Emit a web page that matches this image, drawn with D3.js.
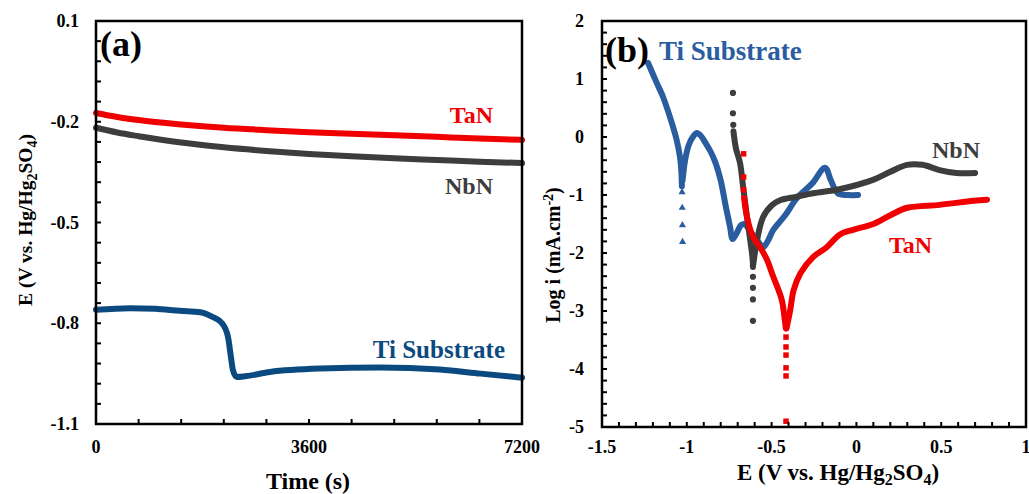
<!DOCTYPE html>
<html>
<head>
<meta charset="utf-8">
<script src="https://cdn.jsdelivr.net/npm/d3@7"></script>
<style>
  body { margin: 0; background: #fff; }
  svg { font-family: "Liberation Serif", "Times New Roman", serif; font-weight: bold; }
</style>
</head>
<body>
<svg id="chart" width="1029" height="494"></svg>
<script>
// ---- panel (a): open circuit potential vs time ----
var timeS = [0, 360, 720, 1440, 2160, 2880, 3600, 4320, 5040, 5760, 6480, 7200];
var tanOcp = [-0.174, -0.186, -0.195, -0.208, -0.218, -0.225, -0.231, -0.236, -0.240, -0.245, -0.250, -0.254];
var nbnOcp = [-0.218, -0.232, -0.243, -0.262, -0.276, -0.287, -0.296, -0.303, -0.309, -0.314, -0.319, -0.323];
var tiTime = [0, 575, 1000, 1420, 1760, 1960, 2130, 2230, 2280, 2315, 2380, 2520, 2940, 3790, 4800, 5810, 6500, 7200];
var tiOcp = [-0.760, -0.755, -0.757, -0.763, -0.767, -0.780, -0.800, -0.840, -0.900, -0.940, -0.960, -0.958, -0.945, -0.935, -0.932, -0.938, -0.950, -0.962];
var aXTicks = [0, 3600, 7200];
var aYTicks = [0.1, -0.2, -0.5, -0.8, -1.1];

// ---- panel (b): polarization curves [E, log i] ----
var tiCath = [[-1.229, 1.28], [-1.18, 0.95], [-1.14, 0.69], [-1.10, 0.35], [-1.06, -0.05], [-1.04, -0.35], [-1.032, -0.6], [-1.029, -0.85]];
var tiTail = [[-1.028, -0.95], [-1.027, -1.22], [-1.026, -1.52], [-1.025, -1.81]];
var tiAnod = [[-1.025, -0.75], [-1.01, -0.4], [-0.99, -0.15], [-0.96, 0.02], [-0.94, 0.07], [-0.92, 0.03], [-0.89, -0.1], [-0.86, -0.25], [-0.83, -0.45], [-0.80, -0.75], [-0.77, -1.2], [-0.745, -1.55], [-0.73, -1.76], [-0.71, -1.68], [-0.68, -1.52], [-0.66, -1.5], [-0.62, -1.65], [-0.58, -1.8], [-0.55, -1.9], [-0.52, -1.78], [-0.49, -1.6], [-0.42, -1.35], [-0.35, -1.05], [-0.26, -0.8], [-0.185, -0.53], [-0.15, -0.75], [-0.11, -0.97], [-0.05, -1.0], [0.01, -1.0]];

var nbnTop = [[-0.728, 0.76], [-0.728, 0.41], [-0.726, 0.21]];
var nbnCath = [[-0.725, 0.1], [-0.71, -0.2], [-0.686, -0.45], [-0.668, -0.86], [-0.645, -1.38], [-0.625, -1.8], [-0.612, -2.1], [-0.61, -2.24]];
var nbnTail = [[-0.61, -2.41], [-0.61, -2.6], [-0.61, -2.8], [-0.61, -3.17]];
var nbnAnod = [[-0.608, -2.2], [-0.586, -1.78], [-0.55, -1.38], [-0.5, -1.18], [-0.45, -1.09], [-0.35, -1.03], [-0.256, -0.97], [-0.1, -0.9], [0.098, -0.74], [0.2, -0.6], [0.298, -0.48], [0.39, -0.48], [0.49, -0.57], [0.59, -0.62], [0.70, -0.62]];

var tanTop = [[-0.665, -0.29], [-0.665, -0.69], [-0.665, -0.91]];
var tanCath = [[-0.662, -1.05], [-0.645, -1.38], [-0.61, -1.72], [-0.568, -1.9], [-0.53, -2.1], [-0.49, -2.41], [-0.44, -2.81], [-0.422, -3.16], [-0.416, -3.3]];
var tanTail = [[-0.415, -3.45], [-0.415, -3.62], [-0.415, -3.76], [-0.415, -3.98], [-0.415, -4.12], [-0.415, -4.9]];
var tanAnod = [[-0.412, -3.3], [-0.39, -2.98], [-0.37, -2.64], [-0.33, -2.35], [-0.256, -2.07], [-0.175, -1.9], [-0.097, -1.68], [-0.02, -1.6], [0.1, -1.5], [0.2, -1.35], [0.3, -1.22], [0.49, -1.17], [0.69, -1.1], [0.77, -1.08]];
var bXTicks = [-1.5, -1, -0.5, 0, 0.5, 1];
var bYTicks = [2, 1, 0, -1, -2, -3, -4, -5];

var RED = "#f00000", GREY = "#3d3d3d", NAVY = "#0b4a80", BLUE = "#2a5d9f";

var svg = d3.select("#chart");

function frame(g, x, y, xMinor, yMinor) {
  var x0 = x.range()[0], x1 = x.range()[1], y0 = y.range()[0], y1 = y.range()[1];
  g.selectAll("line.xt").data(xMinor).join("line")
    .attr("x1", function(d){ return x(d); }).attr("x2", function(d){ return x(d); })
    .attr("y1", y0).attr("y2", y0 - 5)
    .attr("stroke", "#000").attr("stroke-width", 2);
  g.selectAll("line.yt").data(yMinor).join("line")
    .attr("y1", function(d){ return y(d); }).attr("y2", function(d){ return y(d); })
    .attr("x1", x0).attr("x2", x0 + 5)
    .attr("stroke", "#000").attr("stroke-width", 2);
  g.append("rect")
    .attr("x", x0).attr("y", y1)
    .attr("width", x1 - x0).attr("height", y0 - y1)
    .attr("fill", "none").attr("stroke", "#000").attr("stroke-width", 2.5);
}

// axis title with sub/superscripts: parts = [[text, shift]]
function richText(t, parts, small) {
  parts.forEach(function(p){
    var s = t.append("tspan").attr("dy", p[1]).text(p[0]);
    if (p[2]) s.attr("font-size", small);
  });
}

// ================= panel (a) =================
var xa = d3.scaleLinear().domain([0, 7200]).range([96, 522]);
var ya = d3.scaleLinear().domain([-1.1, 0.1]).range([424, 21]);
var ga = svg.append("g");

var lineA = d3.line().curve(d3.curveMonotoneX)
  .x(function(d){ return xa(d[0]); }).y(function(d){ return ya(d[1]); });

function drawOcp(times, vals, col) {
  ga.append("path")
    .attr("d", lineA(d3.zip(times, vals)))
    .attr("fill", "none").attr("stroke", col)
    .attr("stroke-width", 6).attr("stroke-linecap", "round");
}
drawOcp(timeS, tanOcp, RED);
drawOcp(timeS, nbnOcp, GREY);
drawOcp(tiTime, tiOcp, NAVY);

frame(ga, xa, ya, d3.range(0, 7201, 720), d3.range(0, 21).map(function(i){ return +(0.1 - i * 0.06).toFixed(2); }));

ga.selectAll("text.xl").data(aXTicks).join("text")
  .attr("x", function(d){ return xa(d); }).attr("y", 453)
  .attr("text-anchor", "middle").attr("font-size", 18).text(function(d){ return d; });
ga.selectAll("text.yl").data(aYTicks).join("text")
  .attr("x", 79).attr("y", function(d){ return ya(d) + 6; })
  .attr("text-anchor", "end").attr("font-size", 18).text(function(d){ return d; });

ga.append("text").attr("x", 308).attr("y", 489).attr("text-anchor", "middle")
  .attr("font-size", 24).text("Time (s)");

var yla = ga.append("text").attr("transform", "translate(32,220) rotate(-90)")
  .attr("text-anchor", "middle").attr("font-size", 19.5);
richText(yla, [["E (V vs. Hg/Hg", 0], ["2", 5, 1], ["SO", -5], ["4", 5, 1], [")", -5]], 14);

ga.append("text").attr("x", 100).attr("y", 56).attr("font-size", 36).text("(a)");
ga.append("text").attr("x", 493).attr("y", 123).attr("text-anchor", "end")
  .attr("font-size", 24).attr("fill", RED).text("TaN");
ga.append("text").attr("x", 493).attr("y", 194).attr("text-anchor", "end")
  .attr("font-size", 24).attr("fill", GREY).text("NbN");
ga.append("text").attr("x", 505).attr("y", 358).attr("text-anchor", "end")
  .attr("font-size", 25).attr("fill", NAVY).text("Ti Substrate");

// ================= panel (b) =================
var xb = d3.scaleLinear().domain([-1.5, 1]).range([602, 1026]);
var yb = d3.scaleLinear().domain([-5, 2]).range([427, 21]);
var gb = svg.append("g");

var lineB = d3.line().curve(d3.curveCatmullRom)
  .x(function(d){ return xb(d[0]); }).y(function(d){ return yb(d[1]); });

function drawBranch(pts, col) {
  gb.append("path").attr("d", lineB(pts))
    .attr("fill", "none").attr("stroke", col)
    .attr("stroke-width", 6).attr("stroke-linecap", "round").attr("stroke-linejoin", "round");
}
function drawMarks(pts, col, type) {
  gb.selectAll(null).data(pts).join("path")
    .attr("transform", function(d){ return "translate(" + xb(d[0]) + "," + yb(d[1]) + ")"; })
    .attr("d", d3.symbol().type(type).size(type === d3.symbolTriangle ? 22 : 30))
    .attr("fill", col);
}

drawBranch(tiCath, BLUE);
drawBranch(tiAnod, BLUE);
drawMarks(tiTail, BLUE, d3.symbolTriangle);

drawBranch(nbnCath, GREY);
drawBranch(nbnAnod, GREY);
drawMarks(nbnTop, GREY, d3.symbolCircle);
drawMarks(nbnTail, GREY, d3.symbolCircle);

drawBranch(tanCath, RED);
drawBranch(tanAnod, RED);
drawMarks(tanTop, RED, d3.symbolSquare);
drawMarks(tanTail, RED, d3.symbolSquare);

frame(gb, xb, yb, d3.range(0, 26).map(function(i){ return +(-1.5 + i * 0.1).toFixed(2); }),
  d3.range(0, 36).map(function(i){ return +(2 - i * 0.2).toFixed(2); }));

gb.selectAll("text.xl").data(bXTicks).join("text")
  .attr("x", function(d){ return xb(d); }).attr("y", 453)
  .attr("text-anchor", "middle").attr("font-size", 18).text(function(d){ return d; });
gb.selectAll("text.yl").data(bYTicks).join("text")
  .attr("x", 584).attr("y", function(d){ return yb(d) + 6; })
  .attr("text-anchor", "end").attr("font-size", 18).text(function(d){ return d; });

var xlb = gb.append("text").attr("x", 838).attr("y", 480).attr("text-anchor", "middle").attr("font-size", 23);
richText(xlb, [["E (V vs. Hg/Hg", 0], ["2", 5, 1], ["SO", -5], ["4", 5, 1], [")", -5]], 16);

var ylb = gb.append("text").attr("transform", "translate(560,255) rotate(-90)")
  .attr("text-anchor", "middle").attr("font-size", 20);
richText(ylb, [["Log i (mA.cm", 0], ["-2", -7, 1], [")", 7]], 14);

gb.append("text").attr("x", 605).attr("y", 62).attr("font-size", 36).text("(b)");
gb.append("text").attr("x", 659).attr("y", 60).attr("font-size", 27).attr("fill", BLUE).text("Ti Substrate");
gb.append("text").attr("x", 932).attr("y", 158).attr("font-size", 24).attr("fill", GREY).text("NbN");
gb.append("text").attr("x", 889).attr("y", 253).attr("font-size", 24).attr("fill", RED).text("TaN");
</script>
</body>
</html>
